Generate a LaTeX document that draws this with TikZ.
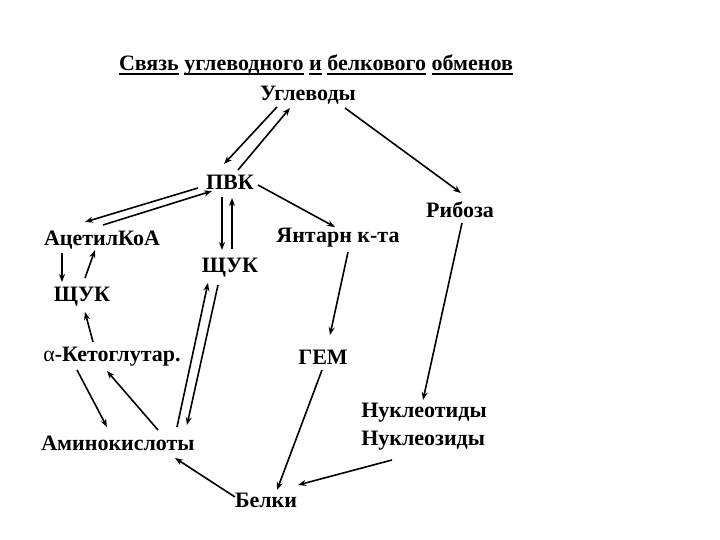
\documentclass[tikz,border=0pt]{standalone}
\usepackage{fontspec}
\setmainfont{Liberation Serif}
\usetikzlibrary{arrows.meta}
\newcommand\myul[1]{\setbox0\hbox{#1}\rlap{\rule[-4.5pt]{\wd0}{2pt}}\box0\relax}
\begin{document}
\begin{tikzpicture}[x=1pt,y=-1pt,
  lbl/.style={font=\bfseries\fontsize{22}{28}\selectfont, inner sep=1pt},
  arr/.style={draw, line width=1.6pt, -{Stealth[length=8pt,width=6pt]}}]
\useasboundingbox[fill=white] (0,0) rectangle (720,540);
\node[lbl] (title) at (316,65)
  {\myul{Связь} \myul{углеводного} \myul{и} \myul{белкового} \myul{обменов}};
\node[lbl] (ugl) at (308,95) {Углеводы};
\node[lbl] (pvk) at (230,182) {ПВК};
\node[lbl] (acoa) at (102,240) {АцетилКоА};
\node[lbl] (shuk2) at (230,268) {ЩУК};
\node[lbl] (yant) at (338,238) {Янтарн к-та};
\node[lbl] (rib) at (460,210) {Рибоза};
\node[lbl] (shuk1) at (82,297) {ЩУК};
\node[lbl] (akg) at (112,357) {{\mdseries α}-Кетоглутар.};
\node[lbl, align=left] (nuk) at (424,427) {Нуклеотиды\\Нуклеозиды};
\node[lbl] (gem) at (323,357) {ГЕМ};
\node[lbl] (amino) at (118,443) {Аминокислоты};
\node[lbl] (bel) at (266,500) {Белки};
% connectors
\draw[arr] ([shift={(-31,12)}]ugl.center) -- ([shift={(-6,-18)}]pvk.center);
\draw[arr] ([shift={(8,-12)}]pvk.center) -- ([shift={(-18,13)}]ugl.center);
\draw[arr] ([shift={(37,13)}]ugl.center) -- ([shift={(1,-17)}]rib.center);
\draw[arr] ([shift={(-32,6)}]pvk.center) -- ([shift={(-17,-18)}]acoa.center);
\draw[arr] ([shift={(1,-15)}]acoa.center) -- ([shift={(-18,9)}]pvk.center);
\draw[arr] ([shift={(-8,15)}]pvk.center) -- ([shift={(-8,-18)}]shuk2.center);
\draw[arr] ([shift={(2,-19)}]shuk2.center) -- ([shift={(2,16)}]pvk.center);
\draw[arr] ([shift={(28,3)}]pvk.center) -- ([shift={(-3,-11)}]yant.center);
\draw[arr] ([shift={(-40,13)}]acoa.center) -- ([shift={(-20,-15)}]shuk1.center);
\draw[arr] ([shift={(3,-19)}]shuk1.center) -- ([shift={(-7,10)}]acoa.center);
\draw[arr] ([shift={(-19,-15)}]akg.center) -- ([shift={(3,15)}]shuk1.center);
\draw[arr] ([shift={(-35,13)}]akg.center) -- ([shift={(-11,-16)}]amino.center);
\draw[arr] ([shift={(40,-13)}]amino.center) -- ([shift={(-5,14)}]akg.center);
\draw[arr] ([shift={(59,-16)}]amino.center) -- ([shift={(-22,15)}]shuk2.center);
\draw[arr] ([shift={(-12,17)}]shuk2.center) -- ([shift={(69,-18)}]amino.center);
\draw[arr] ([shift={(-31,-3)}]bel.center) -- ([shift={(57,15)}]amino.center);
\draw[arr] ([shift={(10,14)}]yant.center) -- ([shift={(7,-22)}]gem.center);
\draw[arr] ([shift={(2,13)}]rib.center) -- ([shift={(-1,-27)}]nuk.center);
\draw[arr] ([shift={(-1,13)}]gem.center) -- ([shift={(11,-10)}]bel.center);
\draw[arr] ([shift={(-32,33)}]nuk.center) -- ([shift={(32,-15)}]bel.center);
\end{tikzpicture}
\end{document}
